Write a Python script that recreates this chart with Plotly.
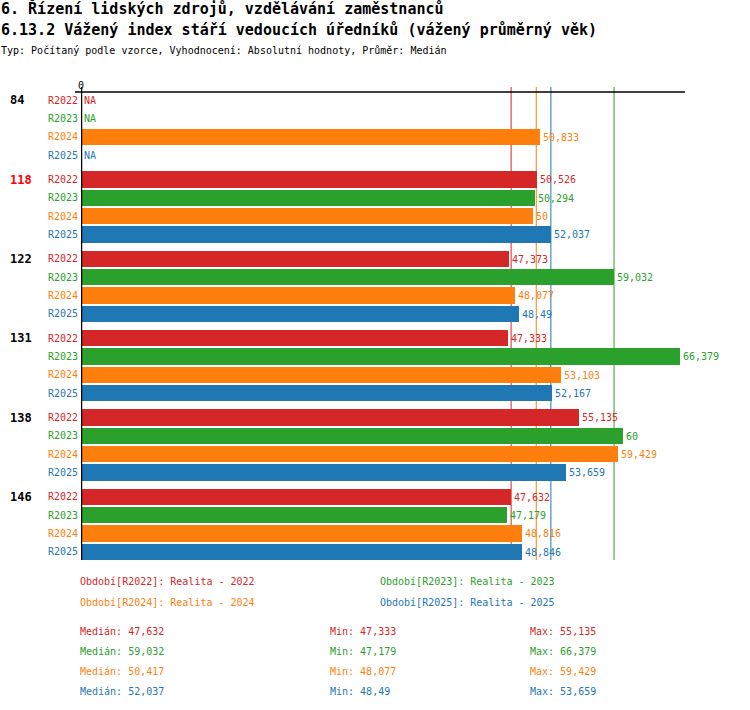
import plotly.graph_objects as go

# ---------------- data ----------------
groups = ["84", "118", "122", "131", "138", "146"]
group_colors = ["black", "red", "black", "black", "black", "black"]
periods = ["R2022", "R2023", "R2024", "R2025"]
period_names = ["Realita - 2022", "Realita - 2023", "Realita - 2024", "Realita - 2025"]
colors = ["#d62728", "#2ca02c", "#ff7f0e", "#1f77b4"]

r2022 = [None, 50.526, 47.373, 47.333, 55.135, 47.632]
r2023 = [None, 50.294, 59.032, 66.379, 60.0, 47.179]
r2024 = [50.833, 50.0, 48.077, 53.103, 59.429, 48.816]
r2025 = [None, 52.037, 48.49, 52.167, 53.659, 48.846]
series = [r2022, r2023, r2024, r2025]

title1 = "6. Řízení lidských zdrojů, vzdělávání zaměstnanců"
title2 = "6.13.2 Vážený index stáří vedoucích úředníků (vážený průměrný věk)"
title3 = "Typ: Počítaný podle vzorce, Vyhodnocení: Absolutní hodnoty, Průměr: Medián"

# ---------------- layout geometry (page pixel coords) ----------------
W, H = 750, 710
L, R, T, B = 81, 685, 92, 560
FONT = "DejaVu Sans Mono"
GROUP_STEP = 4 + 1 / 3  # rows per group incl. gap (row = 18px)


def px(x):
    return (x - L) / (R - L)


def py(y):
    return (B - y) / (B - T)


def fmt(v):
    s = f"{round(v + 1e-9, 3):.3f}".rstrip("0").rstrip(".")
    return s.replace(".", ",")


def median(vals):
    v = sorted(vals)
    n = len(v)
    return v[n // 2] if n % 2 else (v[n // 2 - 1] + v[n // 2]) / 2


fig = go.Figure()
annotations = []
shapes = []

for pi, (name, vals, col) in enumerate(zip(periods, series, colors)):
    ys = [gi * GROUP_STEP + pi for gi in range(len(groups))]
    xs = [v if v is not None else 0 for v in vals]
    texts = [fmt(v) if v is not None else "" for v in vals]
    fig.add_trace(go.Bar(
        x=xs, y=ys, orientation="h", width=16 / 18,
        marker=dict(color=col, line=dict(width=0)),
        text=texts, textposition="outside", cliponaxis=False,
        textfont=dict(family=FONT, size=10, color=col),
        name=name, showlegend=False, hoverinfo="skip",
    ))
    for gi, v in enumerate(vals):
        y = gi * GROUP_STEP + pi
        if v is None:
            annotations.append(dict(x=0, y=y, xref="x", yref="y", text="NA",
                                    xanchor="left", yanchor="middle", xshift=1,
                                    showarrow=False,
                                    font=dict(family=FONT, size=10, color=col)))
        annotations.append(dict(x=px(80), y=y, xref="paper", yref="y", text=name,
                                xanchor="right", yanchor="middle", showarrow=False,
                                font=dict(family=FONT, size=10, color=col)))

for gi, (g, gc) in enumerate(zip(groups, group_colors)):
    annotations.append(dict(x=px(8), y=gi * GROUP_STEP, xref="paper", yref="y",
                            text=f"<b>{g}</b>", xanchor="left", yanchor="middle",
                            showarrow=False, font=dict(family=FONT, size=12, color=gc)))

# median lines
stats = []
for vals, col in zip(series, colors):
    v = [a for a in vals if a is not None]
    m = median(v)
    stats.append((m, min(v), max(v)))
    shapes.append(dict(type="line", xref="x", yref="paper", x0=m, x1=m,
                       y0=0, y1=py(87), line=dict(color=col, width=1), layer="below"))

# axis lines
shapes.append(dict(type="line", xref="paper", yref="paper", x0=px(75), x1=1,
                   y0=1, y1=1, line=dict(color="black", width=1.5)))
shapes.append(dict(type="line", xref="x", yref="paper", x0=0, x1=0,
                   y0=0, y1=py(87), line=dict(color="black", width=2.5)))

# titles
for txt, yc, size, bold in [(title1, 9, 15, True), (title2, 30, 15, True), (title3, 50, 10, False)]:
    annotations.append(dict(x=px(-1), y=py(yc), xref="paper", yref="paper",
                            text=f"<b>{txt}</b>" if bold else txt, xanchor="left",
                            yanchor="middle", showarrow=False,
                            font=dict(family=FONT, size=size, color="black")))

# legend
leg_pos = [(78, 581), (378, 581), (78, 602), (378, 602)]
for (x, y), p, nm, col in zip(leg_pos, periods, period_names, colors):
    annotations.append(dict(x=px(x), y=py(y), xref="paper", yref="paper",
                            text=f"Období[{p}]: {nm}", xanchor="left", yanchor="middle",
                            showarrow=False, font=dict(family=FONT, size=10, color=col)))

# stats
for i, ((m, mn, mx), col) in enumerate(zip(stats, colors)):
    y = 631 + i * 20
    for x, lab in [(78, f"Medián: {fmt(m)}"), (328, f"Min: {fmt(mn)}"), (528, f"Max: {fmt(mx)}")]:
        annotations.append(dict(x=px(x), y=py(y), xref="paper", yref="paper",
                                text=lab, xanchor="left", yanchor="middle",
                                showarrow=False, font=dict(family=FONT, size=10, color=col)))

n_rows_bottom = (len(groups) - 1) * GROUP_STEP + 3 + 8 / 18
fig.update_layout(
    width=W, height=H,
    margin=dict(l=L, r=W - R, t=T, b=H - B, pad=0),
    paper_bgcolor="white", plot_bgcolor="white",
    barmode="overlay", bargap=0,
    xaxis=dict(range=[0, (R - L) / 9.03], side="top", tickmode="array",
               tickvals=[0], ticktext=["0"], ticks="", showgrid=False,
               zeroline=False, showline=False,
               tickfont=dict(family=FONT, size=10, color="black")),
    yaxis=dict(range=[n_rows_bottom, -8 / 18], showticklabels=False, showgrid=False,
               zeroline=False, showline=False, ticks=""),
    annotations=annotations, shapes=shapes,
    font=dict(family=FONT),
)

fig.write_html("out.html", config={"displayModeBar": False},
               post_script="document.body.style.margin='0';document.body.style.padding='0';")
